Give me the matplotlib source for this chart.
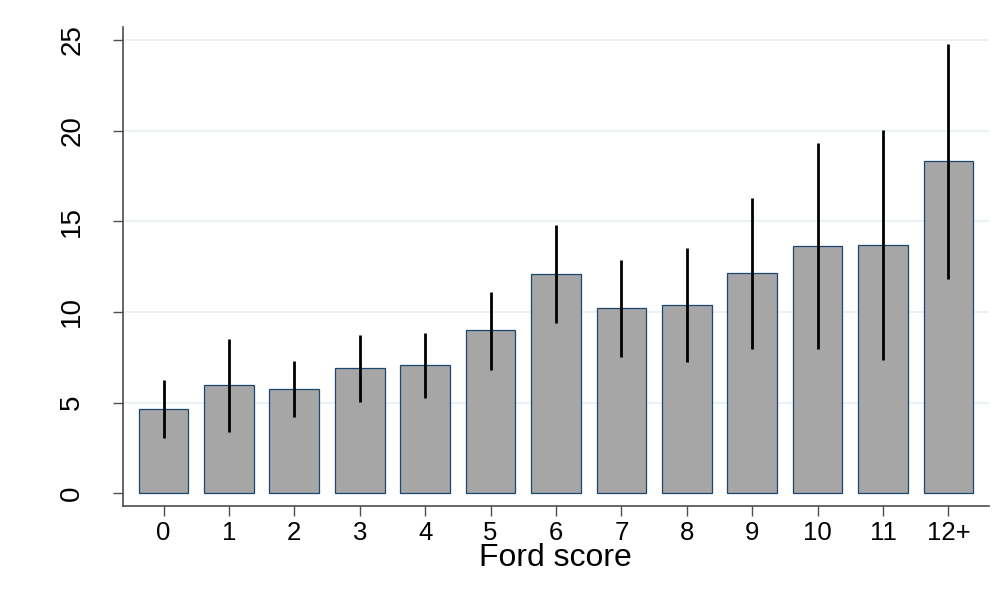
import matplotlib
matplotlib.use("Agg")
import matplotlib.pyplot as plt
import numpy as np

categories = ["0", "1", "2", "3", "4", "5", "6", "7", "8", "9", "10", "11", "12+"]
means = [4.65, 5.96, 5.77, 6.89, 7.06, 8.99, 12.11, 10.20, 10.40, 12.13, 13.62, 13.68, 18.31]
ci_low = [3.03, 3.38, 4.19, 5.02, 5.24, 6.78, 9.38, 7.54, 7.26, 7.94, 7.96, 7.34, 11.84]
ci_high = [6.25, 8.49, 7.30, 8.71, 8.84, 11.10, 14.78, 12.87, 13.51, 16.30, 19.30, 20.04, 24.80]
y_ticks = [0, 5, 10, 15, 20, 25]
x_label = "Ford score"

plt.rcParams['font.family'] = ['Liberation Sans', 'DejaVu Sans']

fig = plt.figure(figsize=(10.05, 5.97), dpi=100)
ax = fig.add_axes([122.7 / 1005, 1 - 506 / 597, (989 - 122.7) / 1005, (506 - 27.3) / 597])

x = np.arange(len(categories))
ax.set_axisbelow(True)
for t in y_ticks[1:]:
    ax.axhline(t, color="#eaf2f3", lw=1.5, zorder=0)

ax.bar(x, means, width=0.76, color="#a6a6a6", edgecolor="#1a476f", linewidth=0.9, zorder=2)
ax.vlines(x, ci_low, ci_high, color="black", lw=2.0, zorder=3)

ax.set_xlim(-0.624, 12.62)
ax.set_ylim(-0.70, 25.7)

ax.set_xticks(x)
ax.set_xticklabels(categories, fontsize=18.5)
ax.set_yticks(y_ticks)
ax.set_yticklabels([str(t) for t in y_ticks], fontsize=20, rotation=90, va="center")

for s in ["top", "right"]:
    ax.spines[s].set_visible(False)
for s in ["left", "bottom"]:
    ax.spines[s].set_color("#4d4d4d")
    ax.spines[s].set_linewidth(1.2)

ax.tick_params(axis="x", length=7, width=1.0, color="#4d4d4d", pad=4)
ax.tick_params(axis="y", length=7, width=1.0, color="#4d4d4d", pad=20)

ax.set_xlabel(x_label, fontsize=23)
ax.xaxis.set_label_coords(0.5, -(558 - 506) / (506 - 27.3))
ax.xaxis.label.set_va("center")

fig.savefig("out.png", dpi=100)
